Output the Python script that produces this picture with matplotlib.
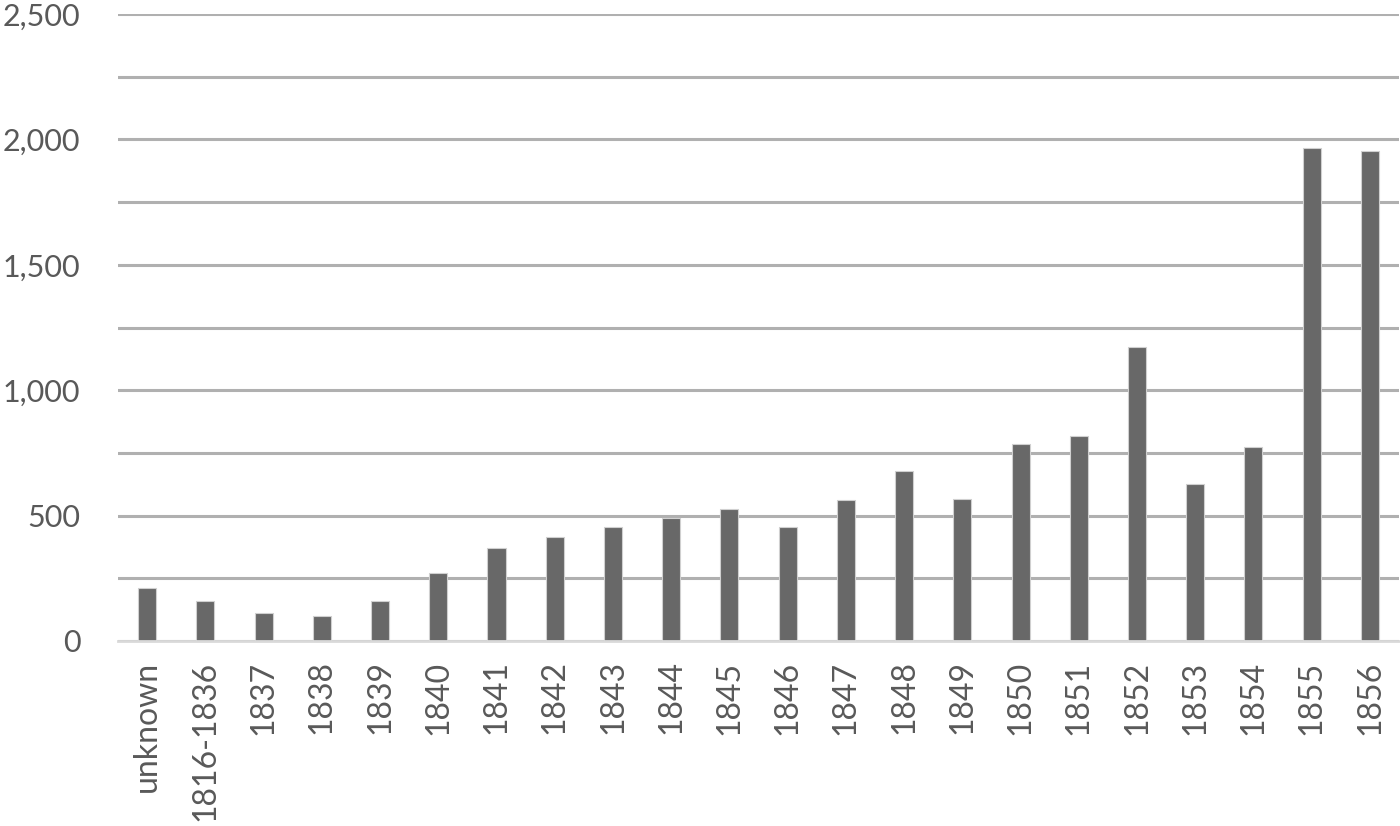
import numpy as np
import matplotlib.pyplot as plt
from matplotlib.ticker import MultipleLocator, FuncFormatter

years = ['unknown', '1816-1836', '1837', '1838', '1839', '1840', '1841',
         '1842', '1843', '1844', '1845', '1846', '1847', '1848', '1849',
         '1850', '1851', '1852', '1853', '1854', '1855', '1856']
counts = [210, 161, 113, 100, 161, 270, 369, 416, 453, 491, 526, 453, 563,
          677, 566, 784, 819, 1174, 624, 772, 1967, 1953]

plt.rcParams['font.family'] = ['Lato', 'DejaVu Sans']

fig = plt.figure(figsize=(14, 8.26), dpi=100)
ax = fig.add_axes([0.0843, 0.224, 0.915, 0.759])

x = np.arange(len(years))
ax.bar(x, counts, width=0.31, color='#686868', edgecolor='#d0d0d0',
       linewidth=0.8, zorder=3)

ax.set_xlim(-0.5, len(years) - 0.5)
ax.set_ylim(0, 2500)
ax.yaxis.set_major_locator(MultipleLocator(500))
ax.yaxis.set_minor_locator(MultipleLocator(250))
ax.yaxis.set_major_formatter(FuncFormatter(lambda v, p: '{:,.0f}'.format(v)))
ax.grid(axis='y', which='both', color='#b0b0b0', linewidth=2.2, zorder=0)

ax.set_xticks(x)
ax.set_xticklabels(years, rotation=90, fontsize=23, color='#595959')
ax.tick_params(axis='y', which='both', length=0, pad=27, labelsize=22,
               labelcolor='#595959')
ax.tick_params(axis='x', length=0, pad=14)

for s in ['top', 'right', 'left']:
    ax.spines[s].set_visible(False)
ax.spines['bottom'].set_color('#d9d9d9')
ax.spines['bottom'].set_linewidth(2)
ax.spines['bottom'].set_zorder(4)

plt.savefig('out.png', dpi=100)
